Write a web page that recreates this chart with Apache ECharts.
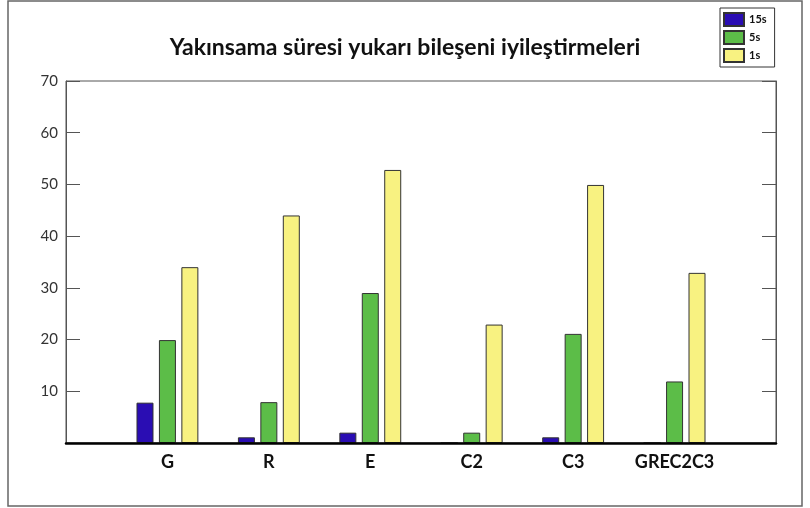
<!DOCTYPE html>
<html>
<head>
<meta charset="utf-8">
<script src="https://cdn.jsdelivr.net/npm/echarts@6/dist/echarts.min.js"></script>
<style>html,body{margin:0;padding:0;background:#fff}#c{width:810px;height:508px}</style>
</head>
<body>
<div id="c"></div>
<script>
const titleText = 'Yakınsama süresi yukarı bileşeni iyileştirmeleri';
const categories = ['', 'G', 'R', 'E', 'C2', 'C3', 'GREC2C3', ''];
const seriesNames = ['15s', '5s', '1s'];
const s15 = [null, 7.8, 1.1, 2, 0, 1.1, 0, null];
const s5 = [null, 19.9, 7.9, 29, 2, 21.1, 11.9, null];
const s1 = [null, 34, 44, 52.8, 22.9, 49.9, 32.9, null];
const yMin = 0, yMax = 70, yStep = 10;
const colors = ['#2a0db3', '#5cbd48', '#f8f281'];

const chart = echarts.init(document.getElementById('c'));
const mk = (name, data, i) => ({
  name, type: 'bar', data, barWidth: 17, barGap: '32%',
  itemStyle: { color: colors[i], borderColor: '#333', borderWidth: 1 }
});
chart.setOption({
  animation: false,
  backgroundColor: '#fff',
  textStyle: { fontFamily: 'Lato' },
  title: {
    text: titleText, left: 'center', top: 31,
    textStyle: { fontFamily: 'Lato', fontWeight: 'bold', fontSize: 23, color: '#111' }
  },
  legend: {
    orient: 'vertical', left: 720, top: 8,
    borderColor: '#333', borderWidth: 1, padding: [4, 8, 4, 3],
    itemWidth: 20, itemHeight: 13, itemGap: 3,
    textStyle: { fontFamily: 'Lato', fontWeight: 'bold', fontSize: 11, color: '#111' },
    data: seriesNames.map(n => ({ name: n, icon: 'rect' }))
  },
  graphic: [{
    type: 'rect', shape: { x: 8, y: 1, width: 794, height: 505 },
    style: { fill: 'none', stroke: '#666', lineWidth: 1.5 }, z: -1
  }],
  grid: {
    left: 66, right: 34, top: 81, bottom: 65,
    show: true, borderColor: '#555', borderWidth: 1, backgroundColor: 'transparent'
  },
  xAxis: {
    type: 'category', data: categories, boundaryGap: false, z: 10,
    axisLine: { lineStyle: { color: '#000', width: 2.5 } },
    axisTick: { show: false },
    axisLabel: { interval: 0, margin: 10, fontFamily: 'Lato', fontWeight: 'bold', fontSize: 18, color: '#111' }
  },
  yAxis: [{
    type: 'value', min: yMin, max: yMax, interval: yStep,
    axisLine: { show: true, lineStyle: { color: '#555', width: 1 } },
    axisTick: { show: true, inside: true, length: 14, lineStyle: { color: '#555' } },
    axisLabel: { showMinLabel: false, margin: 8, fontFamily: 'Lato', fontSize: 15, color: '#333' },
    splitLine: { show: false }
  }, {
    type: 'value', min: yMin, max: yMax, interval: yStep, position: 'right',
    axisLine: { show: true, lineStyle: { color: '#555', width: 1 } },
    axisTick: { show: true, inside: true, length: 14, lineStyle: { color: '#555' } },
    axisLabel: { show: false },
    splitLine: { show: false }
  }],
  series: [mk(seriesNames[0], s15, 0), mk(seriesNames[1], s5, 1), mk(seriesNames[2], s1, 2)]
});
</script>
</body>
</html>
